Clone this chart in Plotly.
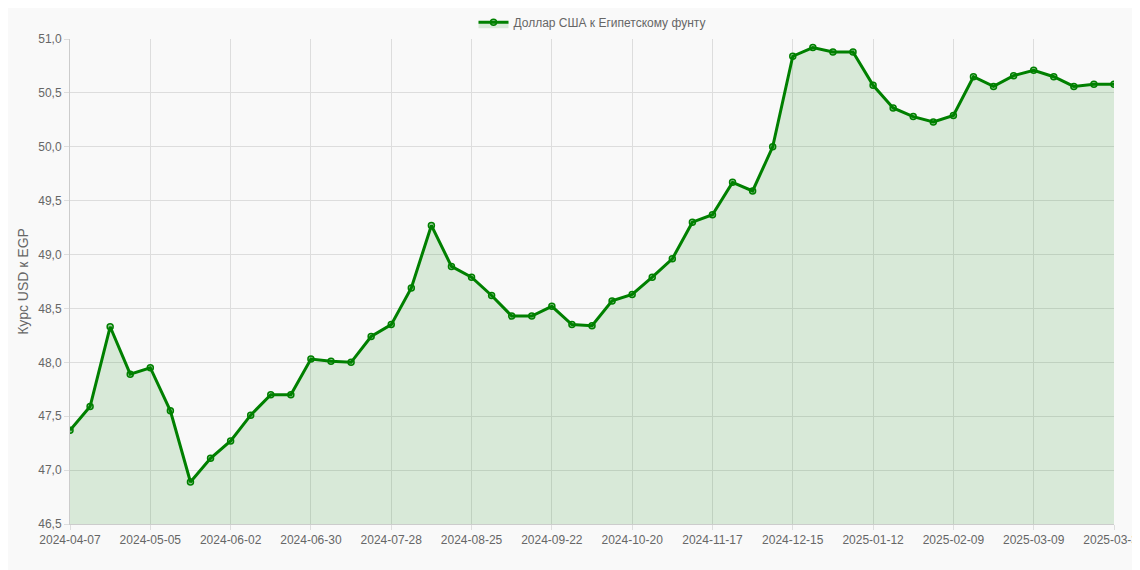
import pandas as pd
import plotly.graph_objects as go

dates = [d.strftime("%Y-%m-%d") for d in pd.date_range("2024-04-07", periods=52, freq="7D")] + ["2025-03-31"]
rates = [47.37, 47.59, 48.33, 47.89, 47.95, 47.55, 46.89, 47.11, 47.27, 47.51,
         47.70, 47.70, 48.03, 48.01, 48.00, 48.24, 48.35, 48.69, 49.27, 48.89,
         48.79, 48.62, 48.43, 48.43, 48.52, 48.35, 48.34, 48.57, 48.63, 48.79,
         48.96, 49.30, 49.37, 49.67, 49.59, 50.00, 50.84, 50.92, 50.88, 50.88,
         50.57, 50.36, 50.28, 50.23, 50.29, 50.65, 50.56, 50.66, 50.71, 50.65,
         50.56, 50.58, 50.58]
tick_labels = dates[::4] + [dates[-1]]

fig = go.Figure()
fig.add_trace(go.Scatter(
    x=dates, y=rates, mode="lines+markers", name="Доллар США к Египетскому фунту",
    fill="tozeroy", fillcolor="rgba(0,128,0,0.13)",
    line=dict(color="green", width=3),
    marker=dict(size=6, color="rgba(0,128,0,0.35)", line=dict(color="green", width=1.5)),
))
fig.update_layout(
    width=1140, height=570,
    paper_bgcolor="#f9f9f9", plot_bgcolor="#f9f9f9",
    margin=dict(l=62, r=34, t=31, b=54),
    separators=", ",
    font=dict(family="Liberation Sans, Arial", size=12, color="#666"),
    showlegend=True,
    legend=dict(orientation="h", x=0.5, xanchor="center", yref="container", y=0.975,
                yanchor="middle", font=dict(size=12, color="#666")),
    xaxis=dict(type="category", tickvals=tick_labels, ticktext=tick_labels, automargin=False,
               showgrid=True, gridcolor="#ddd", linecolor="#ccc", showline=True,
               range=[0, len(dates) - 1], tickangle=0, ticks="outside", ticklen=5, tickcolor="#ddd"),
    yaxis=dict(range=[46.5, 51.0], dtick=0.5, tickformat=".1f", automargin=False,
               showgrid=True, gridcolor="#ddd", linecolor="#ccc", showline=True,
               zeroline=False, ticks="outside", ticklen=5, tickcolor="#ddd",
               title=dict(text="Курс USD к EGP", font=dict(size=14, color="#666"), standoff=6)),
)
fig.write_html("out.html")
